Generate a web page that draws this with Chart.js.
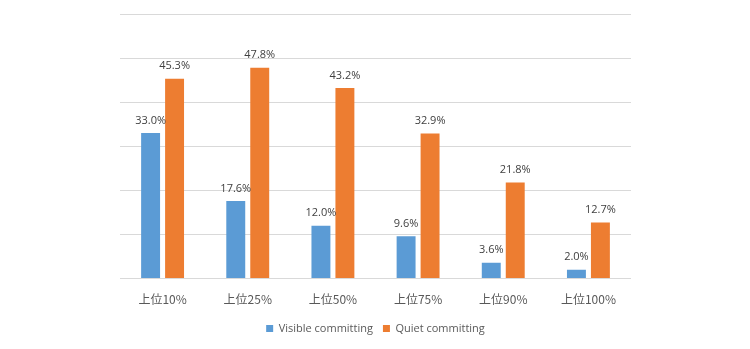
<!DOCTYPE html>
<html>
<head>
<meta charset="utf-8">
<script src="https://cdn.jsdelivr.net/npm/chart.js@4"></script>
<style>
  html, body { margin: 0; padding: 0; background: #fff; }
  #wrap { width: 750px; height: 349px; }
</style>
</head>
<body>
<div id="wrap"><canvas id="commit-chart"></canvas></div>
<script>
var categories = ['上位10%', '上位25%', '上位50%', '上位75%', '上位90%', '上位100%'];
var visibleValues = [33.0, 17.6, 12.0, 9.6, 3.6, 2.0];
var quietValues = [45.3, 47.8, 43.2, 32.9, 21.8, 12.7];
var seriesNames = ['Visible committing', 'Quiet committing'];

// draws the value above each bar
var valueLabels = {
    id: 'valueLabels',
    afterDatasetsDraw: function(chart) {
        var ctx = chart.ctx;
        ctx.save();
        ctx.font = '11px "Open Sans", "Noto Sans", sans-serif';
        ctx.fillStyle = '#404040';
        ctx.textAlign = 'center';
        ctx.textBaseline = 'bottom';
        chart.data.datasets.forEach(function(ds, i) {
            chart.getDatasetMeta(i).data.forEach(function(bar, j) {
                ctx.fillText(ds.data[j].toFixed(1) + '%', bar.x, bar.y - 7);
            });
        });
        ctx.restore();
    }
};

var commitCtx = document.getElementById('commit-chart');

var commitChart = new Chart(commitCtx, {
    type: 'bar',
    data: {
        labels: categories,
        datasets: [{
            label: seriesNames[0],
            data: visibleValues,
            backgroundColor: '#5B9BD5'
        }, {
            label: seriesNames[1],
            data: quietValues,
            backgroundColor: '#ED7D31'
        }]
    },
    options: {
        responsive: true,
        maintainAspectRatio: false,
        animation: false,
        categoryPercentage: 0.563,
        barPercentage: 0.79,
        layout: {
            padding: { left: 120, right: 119, top: 14, bottom: 5 }
        },
        scales: {
            x: {
                grid: { display: false },
                border: { display: false },
                ticks: {
                    color: '#595959',
                    font: { family: '"Noto Sans CJK JP", sans-serif', size: 12 },
                    padding: 6
                }
            },
            y: {
                min: 0,
                max: 60,
                ticks: { stepSize: 10, display: false },
                grid: { color: '#d9d9d9', drawTicks: false },
                border: { display: false }
            }
        },
        plugins: {
            legend: {
                position: 'bottom',
                labels: {
                    boxWidth: 7,
                    boxHeight: 7,
                    color: '#595959',
                    font: { family: '"Open Sans", "Noto Sans", sans-serif', size: 11 },
                    padding: 10
                }
            },
            tooltip: { enabled: false }
        }
    },
    plugins: [valueLabels]
});
</script>
</body>
</html>
